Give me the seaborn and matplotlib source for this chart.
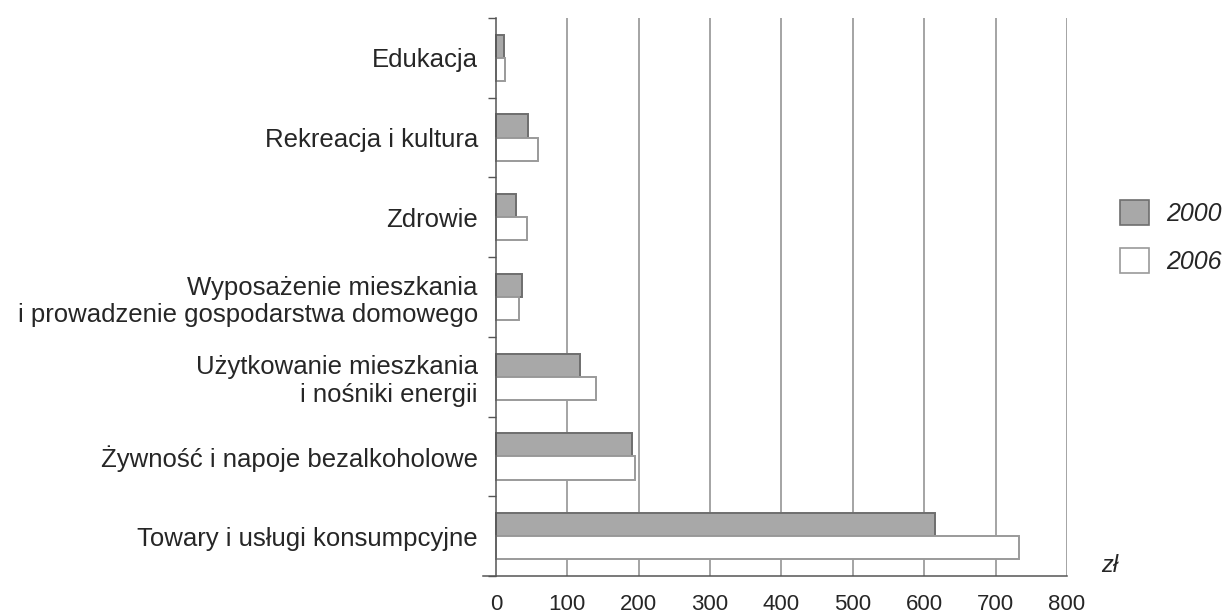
import pandas
import matplotlib
matplotlib.use('Agg')
import matplotlib.pyplot as plt
import seaborn
from matplotlib.ticker import FixedLocator

categories = [
    'Edukacja',
    'Rekreacja i kultura',
    'Zdrowie',
    'Wyposażenie mieszkania\ni prowadzenie gospodarstwa domowego',
    'Użytkowanie mieszkania\ni nośniki energii',
    'Żywność i napoje bezalkoholowe',
    'Towary i usługi konsumpcyjne',
]
years = ['2000', '2006']
values2000 = [11, 45, 28, 37, 118, 191, 615]
values2006 = [13, 59, 43, 33, 140, 195, 733]
xticks = [0, 100, 200, 300, 400, 500, 600, 700, 800]

seaborn.set_theme(style='white')
plt.rcParams['font.family'] = ['Liberation Sans', 'DejaVu Sans']

Data = pandas.DataFrame({
    'kategoria': categories * 2,
    'rok': [years[0]] * len(categories) + [years[1]] * len(categories),
    'wartosc': values2000 + values2006,
})

fig = plt.figure(figsize=(12.25, 6.14), dpi=100)
ax = fig.add_axes([483 / 1225, 1 - 576 / 614, (1067 - 483) / 1225, (576 - 18) / 614])

seaborn.barplot(data=Data, x='wartosc', y='kategoria', hue='rok', orient='h',
                order=categories, hue_order=years,
                palette={'2000': '#a8a8a8', '2006': '#ffffff'},
                width=0.58, gap=0, legend=False, ax=ax)

# bar outlines: darker for 2000, light grey for 2006
for i, patch in enumerate(ax.patches):
    if i < len(categories):
        patch.set_edgecolor('#6e6e6e')
    else:
        patch.set_edgecolor('#9a9a9a')
    patch.set_linewidth(1.4)

ax.set_xlim(-18, 800)
ax.set_ylim(len(categories) - 0.5, -0.5)
ax.set_xticks(xticks)
ax.set_xticklabels([str(v) for v in xticks], fontsize=16)
ax.set_xlabel('')
ax.set_ylabel('')

# vertical grid lines
for v in xticks[1:]:
    ax.axvline(v, color='#8c8c8c', linewidth=1.1, zorder=0)

for side in ['top', 'right']:
    ax.spines[side].set_visible(False)
ax.spines['left'].set_position(('data', 0))
ax.spines['left'].set_color('#555555')
ax.spines['bottom'].set_color('#555555')
ax.spines['left'].set_linewidth(1.1)
ax.spines['bottom'].set_linewidth(1.1)

ax.tick_params(axis='x', direction='out', length=7, width=1.5, color='#333333', pad=6)
ax.tick_params(axis='y', which='major', length=0, pad=13, labelsize=18.5)
ax.yaxis.set_minor_locator(FixedLocator([i - 0.5 for i in range(len(categories) + 1)]))
ax.tick_params(axis='y', which='minor', direction='out', length=6, width=1, color='#555555')
ax.yaxis.set_ticks_position('left')

# legend built by hand
handles = [
    matplotlib.patches.Patch(facecolor='#a8a8a8', edgecolor='#6e6e6e', linewidth=1.2, label='2000'),
    matplotlib.patches.Patch(facecolor='#ffffff', edgecolor='#9a9a9a', linewidth=1.2, label='2006'),
]
leg = fig.legend(handles=handles, loc='upper left', bbox_to_anchor=(1120 / 1225, 1 - 200 / 614),
                 frameon=False, fontsize=18, handlelength=1.15, handleheight=1.15,
                 labelspacing=0.9, handletextpad=0.7, borderpad=0, borderaxespad=0)
for t in leg.get_texts():
    t.set_fontstyle('italic')

fig.text(1101 / 1225, 1 - 566 / 614, 'zł', fontsize=17, fontstyle='italic', va='center')

fig.savefig('out.png', dpi=100)
